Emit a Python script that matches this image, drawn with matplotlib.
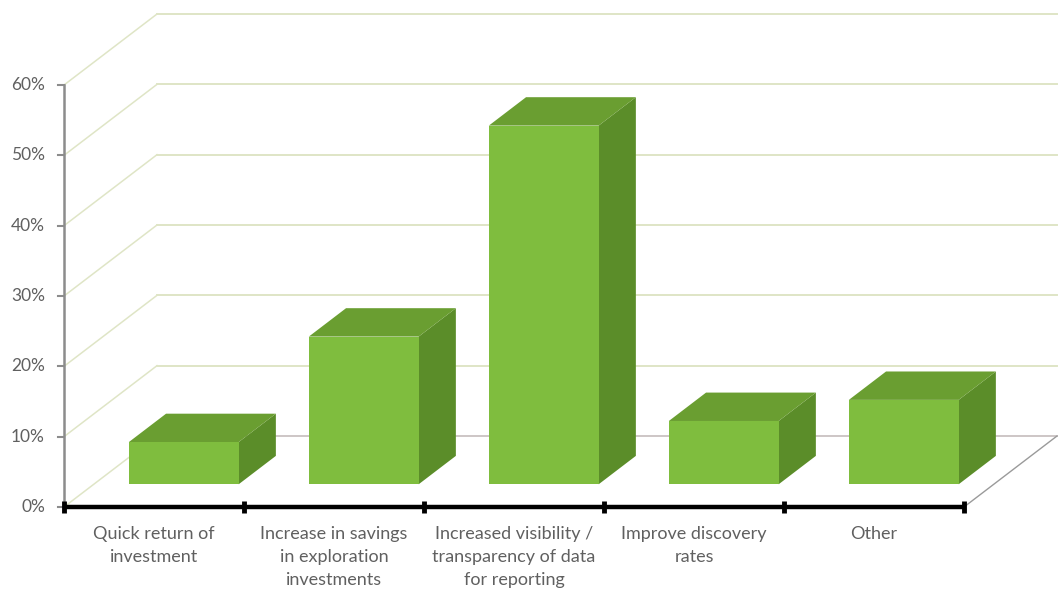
import matplotlib
matplotlib.use("Agg")
import matplotlib.pyplot as plt
from matplotlib.patches import Polygon

categories = [
    "Quick return of\ninvestment",
    "Increase in savings\nin exploration\ninvestments",
    "Increased visibility /\ntransparency of data\nfor reporting",
    "Improve discovery\nrates",
    "Other",
]
values = [6, 21, 51, 9, 12]
y_ticks = [0, 10, 20, 30, 40, 50, 60]
y_tick_labels = ["0%", "10%", "20%", "30%", "40%", "50%", "60%"]

W, H, DPI = 1063, 589, 100
fig = plt.figure(figsize=(W / DPI, H / DPI), dpi=DPI)
ax = fig.add_axes([0, 0, 1, 1])

# data scale: one category = 180 px, 10 % = 70.33 px, origin at (64, 507) px
px_x = 180.0
px_y = 7.033
ax.set_xlim(-64 / px_x, (W - 64) / px_x)
ax.set_ylim(-(H - 507) / px_y, 507 / px_y)
ax.axis("off")

# depth of the 3D box (back wall offset)
DX, DY = 93 / px_x, 71 / px_y
n = len(categories)
ymax = 60

grid_col = "#dfe5c6"
floor_col = "#cdc6c6"
text_col = "#606060"

# side-wall diagonals and back-wall gridlines
for t in y_ticks:
    ax.plot([0, DX], [t, t + DY], color=grid_col, lw=1.1, zorder=1)
    if t > 0:
        ax.plot([DX, n + DX], [t + DY, t + DY], color=grid_col, lw=1.4, zorder=1)
# floor
ax.plot([DX, n + DX], [DY, DY], color=floor_col, lw=1.4, zorder=1)
ax.plot([n, n + DX], [0, DY], color="#9a9a9a", lw=1.0, zorder=1)

# vertical axis
ax.plot([0, 0], [0, ymax], color="#8c8c8c", lw=1.8, zorder=3)
for t, lab in zip(y_ticks, y_tick_labels):
    ax.plot([-6 / px_x, 0], [t, t], color="#8c8c8c", lw=1.5, zorder=3)
    ax.text(-19 / px_x, t, lab, ha="right", va="center", fontsize=12.5,
            color=text_col, family="Lato")

# bars as extruded boxes
front_col = "#7fbd3e"
top_col = "#6a9e31"
side_col = "#5b8d29"
bw = 0.61
d0, d1 = 0.32, 0.72
for i, v in enumerate(values):
    x0 = i + (1 - bw) / 2 + d0 * DX
    x1 = x0 + bw
    yb = d0 * DY
    yt = yb + v
    ddx, ddy = (d1 - d0) * DX, (d1 - d0) * DY
    side = Polygon([(x1, yb), (x1 + ddx, yb + ddy), (x1 + ddx, yt + ddy), (x1, yt)],
                   closed=True, facecolor=side_col, edgecolor="none", zorder=4)
    top = Polygon([(x0, yt), (x0 + ddx, yt + ddy), (x1 + ddx, yt + ddy), (x1, yt)],
                  closed=True, facecolor=top_col, edgecolor="none", zorder=4)
    front = Polygon([(x0, yb), (x1, yb), (x1, yt), (x0, yt)],
                    closed=True, facecolor=front_col, edgecolor="none", zorder=5)
    for p in (side, top, front):
        ax.add_patch(p)

# category axis
ax.plot([0, n], [0, 0], color="black", lw=3.2, solid_capstyle="butt", zorder=6)
for i in range(n + 1):
    ax.plot([i, i], [-6 / px_y, 6 / px_y], color="black", lw=3.5,
            solid_capstyle="butt", zorder=6)

for i, lab in enumerate(categories):
    ax.text(i + 0.5, -19 / px_y, lab, ha="center", va="top", fontsize=13,
            color=text_col, family="Lato", linespacing=1.52)

fig.savefig("out.png", dpi=DPI, facecolor="white")
